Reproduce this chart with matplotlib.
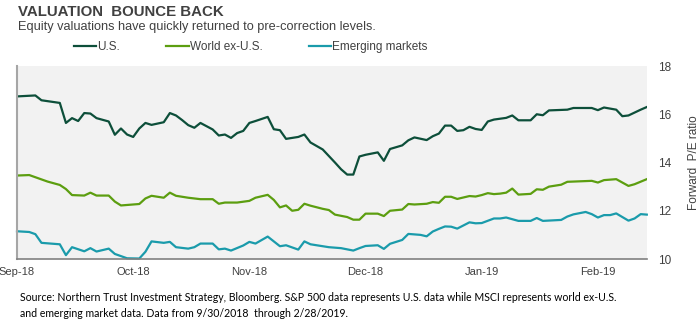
import matplotlib.pyplot as plt

# trading-day index (0 = 9/28/2018 ... 103 = 2/28/2019) and forward P/E readings
us_day = [0, 3, 4, 7, 8, 9, 10, 11, 12, 13, 15, 16, 17, 18, 19, 20, 21, 22, 24, 25, 26, 27, 28, 29, 30,
          32, 33, 34, 35, 36, 37, 38, 39, 41, 42, 43, 44, 46, 47, 48, 50, 52, 53, 54, 55, 56, 57, 59, 60,
          61, 63, 64, 65, 67, 68, 69, 70, 71, 72, 73, 74, 75, 76, 77, 78, 80, 81, 82, 84, 85, 86, 87, 90,
          91, 94, 95, 96, 98, 99, 100, 101, 102, 103]
us_pe = [16.74, 16.78, 16.58, 16.47, 15.64, 15.84, 15.72, 16.05, 16.03, 15.84, 15.70, 15.15, 15.41, 15.16,
         15.06, 15.41, 15.64, 15.56, 15.67, 16.05, 15.95, 15.76, 15.55, 15.44, 15.64, 15.37, 15.12, 15.16,
         15.02, 15.22, 15.31, 15.64, 15.72, 15.89, 15.38, 15.34, 14.98, 15.06, 15.16, 14.83, 14.54, 14.00,
         13.72, 13.50, 13.50, 14.25, 14.32, 14.42, 14.07, 14.56, 14.71, 14.92, 15.04, 14.93, 15.09, 15.20,
         15.53, 15.53, 15.31, 15.34, 15.48, 15.39, 15.35, 15.70, 15.78, 15.85, 15.95, 15.75, 15.75, 16.00,
         15.96, 16.16, 16.19, 16.26, 16.26, 16.17, 16.28, 16.19, 15.92, 15.95, 16.07, 16.19, 16.30]

world_day = [0, 2, 3, 5, 7, 8, 9, 11, 12, 13, 15, 16, 17, 20, 21, 22, 24, 25, 26, 28, 30, 32, 33, 34, 36,
             38, 39, 41, 42, 43, 44, 45, 46, 47, 48, 50, 51, 52, 54, 55, 56, 57, 59, 60, 61, 63, 64, 65, 67,
             68, 69, 70, 71, 72, 74, 75, 76, 77, 78, 79, 80, 81, 82, 84, 85, 86, 87, 89, 90, 94, 95, 96, 98,
             100, 101, 103]
world_pe = [13.46, 13.48, 13.39, 13.21, 13.07, 12.90, 12.65, 12.63, 12.75, 12.63, 12.63, 12.38, 12.22,
            12.28, 12.51, 12.62, 12.54, 12.75, 12.62, 12.54, 12.48, 12.48, 12.29, 12.34, 12.34, 12.41, 12.54,
            12.66, 12.45, 12.14, 12.22, 12.00, 12.04, 12.29, 12.21, 12.08, 12.03, 11.84, 11.74, 11.63, 11.63,
            11.88, 11.88, 11.78, 12.00, 12.05, 12.28, 12.26, 12.29, 12.36, 12.33, 12.58, 12.58, 12.49, 12.61,
            12.59, 12.65, 12.73, 12.69, 12.71, 12.75, 12.92, 12.67, 12.70, 12.89, 12.87, 13.00, 13.08, 13.20,
            13.24, 13.17, 13.27, 13.31, 13.03, 13.10, 13.31]

em_day = [0, 2, 3, 4, 7, 8, 9, 11, 12, 13, 15, 16, 17, 18, 20, 21, 22, 24, 25, 26, 28, 29, 30, 32, 33, 34,
          35, 37, 38, 39, 41, 43, 44, 46, 47, 48, 50, 51, 53, 55, 56, 57, 59, 60, 61, 63, 64, 66, 67, 68, 69,
          70, 71, 72, 74, 75, 76, 78, 79, 80, 82, 84, 85, 86, 89, 90, 91, 93, 94, 95, 96, 97, 98, 100, 101,
          102, 103]
em_pe = [11.15, 11.12, 11.03, 10.67, 10.61, 10.16, 10.49, 10.32, 10.45, 10.31, 10.43, 10.21, 10.12, 10.03,
         10.02, 10.30, 10.73, 10.67, 10.71, 10.49, 10.43, 10.49, 10.64, 10.64, 10.40, 10.43, 10.35, 10.56,
         10.71, 10.64, 10.93, 10.53, 10.57, 10.39, 10.73, 10.61, 10.53, 10.49, 10.45, 10.35, 10.45, 10.54,
         10.57, 10.42, 10.63, 10.79, 11.04, 11.00, 10.94, 11.14, 11.25, 11.35, 11.34, 11.26, 11.52, 11.48,
         11.49, 11.68, 11.68, 11.72, 11.58, 11.58, 11.70, 11.58, 11.62, 11.76, 11.85, 11.95, 11.86, 11.72,
         11.82, 11.82, 11.89, 11.59, 11.68, 11.86, 11.84]

tick_days = [0, 19, 38, 57, 76, 95]
tick_labels = ['Sep-18', 'Oct-18', 'Nov-18', 'Dec-18', 'Jan-19', 'Feb-19']

plt.rcParams['font.family'] = ['Liberation Sans', 'DejaVu Sans']
grey = '#404040'

fig = plt.figure(figsize=(7, 3.26), dpi=100)
ax = fig.add_axes([0.0243, 0.2055, 0.8997, 0.592])
ax.set_facecolor('#f2f2f2')

ax.plot(us_day, us_pe, color='#0d4f3a', lw=1.6, label='U.S.')
ax.plot(world_day, world_pe, color='#5c9e10', lw=1.6, label='World ex-U.S.')
ax.plot(em_day, em_pe, color='#1a9bab', lw=1.6, label='Emerging markets', clip_on=False)

ax.set_xlim(0, 103)
ax.set_ylim(10, 18)
ax.set_yticks([10, 12, 14, 16, 18])
ax.yaxis.tick_right()
ax.yaxis.set_label_position('right')
ax.tick_params(axis='y', length=0, pad=8, labelsize=8.5, labelcolor=grey)
ax.set_xticks(tick_days)
ax.set_xticklabels(tick_labels)
ax.tick_params(axis='x', length=0, pad=6, labelsize=8, labelcolor=grey)
ax.set_ylabel('Forward  P/E ratio', fontsize=8.5, color=grey, labelpad=12)

for s in ['top', 'right']:
    ax.spines[s].set_visible(False)
ax.spines['left'].set_color('#a6a6a6')
ax.spines['left'].set_linewidth(1.5)
ax.spines['bottom'].set_color('#808080')
ax.spines['bottom'].set_linewidth(1.2)

fig.legend(loc='center left', bbox_to_anchor=(0.097, 0.856), ncol=3, frameon=False, borderpad=0,
           fontsize=8.5, handlelength=1.9, handletextpad=0.1, columnspacing=3.9, labelcolor=grey)

fig.text(0.026, 0.963, 'VALUATION  BOUNCE BACK', fontsize=10.8, fontweight='bold', color=grey, va='center')
fig.text(0.026, 0.917, 'Equity valuations have quickly returned to pre-correction levels.', fontsize=9.2,
         color=grey, va='center')

fig.text(0.028, 0.088, 'Source: Northern Trust Investment Strategy, Bloomberg. S&P 500 data represents U.S. data '
         'while MSCI represents world ex-U.S.', fontsize=7.6, color='black', va='center', family='Lato')
fig.text(0.028, 0.038, 'and emerging market data. Data from 9/30/2018  through 2/28/2019.', fontsize=7.6,
         color='black', va='center', family='Lato')

fig.savefig('out.png', dpi=100)
